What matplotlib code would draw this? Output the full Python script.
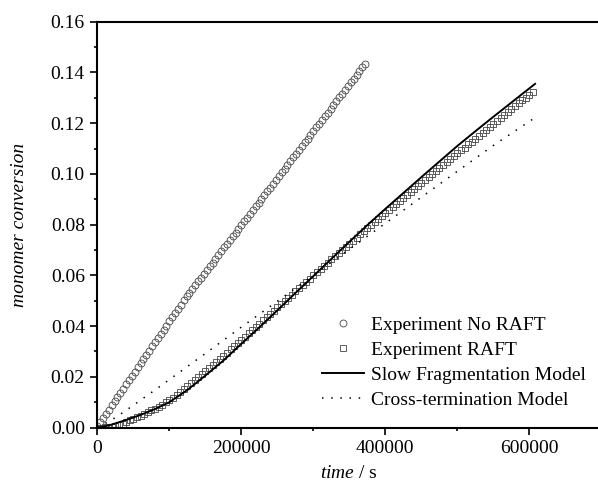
import numpy as np
import matplotlib
matplotlib.use("Agg")
from matplotlib import pyplot as plt
from matplotlib.ticker import MultipleLocator, FormatStrFormatter

plt.rcParams['font.family'] = ['Liberation Serif', 'DejaVu Serif']
plt.rcParams['mathtext.fontset'] = 'custom'
plt.rcParams['mathtext.rm'] = 'Liberation Serif'
plt.rcParams['mathtext.it'] = 'Liberation Serif:italic'

# Experiment No RAFT (circles), every 4000 s
t_noraft = np.arange(0, 376000, 4000)
x_noraft = [0.0005, 0.0022, 0.0038, 0.0055, 0.0071, 0.0088, 0.0104, 0.0121, 0.0137, 0.0154,
            0.0171, 0.0187, 0.0204, 0.0220, 0.0237, 0.0253, 0.0270, 0.0287, 0.0303, 0.0320,
            0.0336, 0.0353, 0.0369, 0.0386, 0.0402, 0.0419, 0.0436, 0.0452, 0.0469, 0.0485,
            0.0502, 0.0517, 0.0532, 0.0547, 0.0562, 0.0576, 0.0591, 0.0606, 0.0621, 0.0636,
            0.0650, 0.0665, 0.0680, 0.0695, 0.0710, 0.0724, 0.0739, 0.0754, 0.0769, 0.0784,
            0.0798, 0.0813, 0.0828, 0.0843, 0.0858, 0.0872, 0.0887, 0.0902, 0.0917, 0.0932,
            0.0946, 0.0961, 0.0976, 0.0991, 0.1006, 0.1020, 0.1035, 0.1050, 0.1065, 0.1080,
            0.1094, 0.1109, 0.1124, 0.1139, 0.1154, 0.1168, 0.1183, 0.1198, 0.1213, 0.1228,
            0.1242, 0.1257, 0.1272, 0.1287, 0.1302, 0.1316, 0.1331, 0.1346, 0.1361, 0.1376,
            0.1390, 0.1405, 0.1420, 0.1435]

# Experiment RAFT (squares), every 5000 s
t_raft = np.arange(0, 610000, 5000)
x_raft = [0.0000, 0.0000, 0.0001, 0.0002, 0.0004, 0.0006, 0.0010, 0.0015, 0.0021, 0.0028,
          0.0035, 0.0041, 0.0047, 0.0054, 0.0061, 0.0068, 0.0075, 0.0083, 0.0091, 0.0099,
          0.0108, 0.0118, 0.0129, 0.0141, 0.0153, 0.0165, 0.0176, 0.0187, 0.0198, 0.0210,
          0.0222, 0.0234, 0.0246, 0.0258, 0.0270, 0.0283, 0.0295, 0.0308, 0.0321, 0.0333,
          0.0346, 0.0359, 0.0372, 0.0384, 0.0397, 0.0410, 0.0423, 0.0436, 0.0448, 0.0461,
          0.0474, 0.0487, 0.0499, 0.0512, 0.0524, 0.0537, 0.0550, 0.0562, 0.0575, 0.0587,
          0.0600, 0.0613, 0.0625, 0.0638, 0.0650, 0.0663, 0.0675, 0.0688, 0.0700, 0.0713,
          0.0725, 0.0737, 0.0749, 0.0762, 0.0774, 0.0786, 0.0798, 0.0810, 0.0822, 0.0834,
          0.0846, 0.0858, 0.0870, 0.0881, 0.0893, 0.0905, 0.0917, 0.0929, 0.0940, 0.0952,
          0.0964, 0.0976, 0.0988, 0.0999, 0.1011, 0.1023, 0.1035, 0.1046, 0.1058, 0.1069,
          0.1081, 0.1093, 0.1104, 0.1116, 0.1127, 0.1139, 0.1151, 0.1162, 0.1174, 0.1185,
          0.1197, 0.1209, 0.1220, 0.1232, 0.1243, 0.1255, 0.1267, 0.1278, 0.1290, 0.1301,
          0.1313, 0.1324]

# Slow Fragmentation Model
t_slow = [0, 10000, 20000, 40000, 60000, 80000, 100000, 125000, 150000, 175000, 200000,
          225000, 250000, 275000, 300000, 325000, 350000, 375000, 400000, 450000, 500000,
          525000, 550000, 575000, 608000]
x_slow = [0.0, 0.0005, 0.0012, 0.0030, 0.0050, 0.0073, 0.0100, 0.0148, 0.0205, 0.0264, 0.0330,
          0.0395, 0.0462, 0.0530, 0.0597, 0.0665, 0.0732, 0.0798, 0.0862, 0.0987, 0.1110,
          0.1168, 0.1225, 0.1281, 0.1355]

# Cross-termination Model
t_cross = [0, 20000, 40000, 60000, 80000, 100000, 150000, 200000, 250000, 300000, 350000,
           400000, 450000, 500000, 550000, 608000]
x_cross = [0.0, 0.0030, 0.0068, 0.0108, 0.0148, 0.0189, 0.0292, 0.0396, 0.0498, 0.0600, 0.0703,
           0.0805, 0.0908, 0.1010, 0.1112, 0.1222]

fig = plt.figure(figsize=(5.98, 4.91), dpi=100)
ax = fig.add_axes([97.3/598, 1-427.6/491, 504/598, (427.6-21.7)/491])

ax.plot(t_noraft, x_noraft, linestyle='None', marker='o', markersize=5, markerfacecolor='none',
        markeredgecolor='#444444', markeredgewidth=0.6, label='Experiment No RAFT')
ax.plot(t_raft, x_raft, linestyle='None', marker='s', markersize=5, markerfacecolor='none',
        markeredgecolor='#444444', markeredgewidth=0.6, label='Experiment RAFT')
ax.plot(t_slow, x_slow, color='black', linewidth=1.4, label='Slow Fragmentation Model')
ax.plot(t_cross, x_cross, color='black', linewidth=1.1, linestyle=(0, (1, 5)),
        label='Cross-termination Model')

ax.set_xlim(0, 700000)
ax.set_ylim(0, 0.16)
ax.xaxis.set_major_locator(MultipleLocator(200000))
ax.xaxis.set_minor_locator(MultipleLocator(100000))
ax.yaxis.set_major_locator(MultipleLocator(0.02))
ax.yaxis.set_minor_locator(MultipleLocator(0.01))
ax.yaxis.set_major_formatter(FormatStrFormatter('%.2f'))

for s in ['left', 'bottom', 'top']:
    ax.spines[s].set_linewidth(1.5)
ax.spines['right'].set_visible(False)
ax.tick_params(which='major', direction='out', length=5, width=1.2, labelsize=14, pad=4)
ax.tick_params(which='minor', direction='out', length=2.5, width=1.2)
ax.tick_params(top=False, right=False, which='both')

ax.set_xlabel(r'$\it{time}$ / s', fontsize=14, labelpad=6)
ax.set_ylabel('monomer conversion', fontsize=14, fontstyle='italic', labelpad=16)

leg = ax.legend(loc='upper left', bbox_to_anchor=(321.7/598, 1-316.5/491),
                bbox_transform=fig.transFigure, frameon=False, fontsize=14,
                handlelength=2.2, handletextpad=0.35, labelspacing=0.37,
                borderpad=0, borderaxespad=0)

fig.savefig('out.png', dpi=100)
